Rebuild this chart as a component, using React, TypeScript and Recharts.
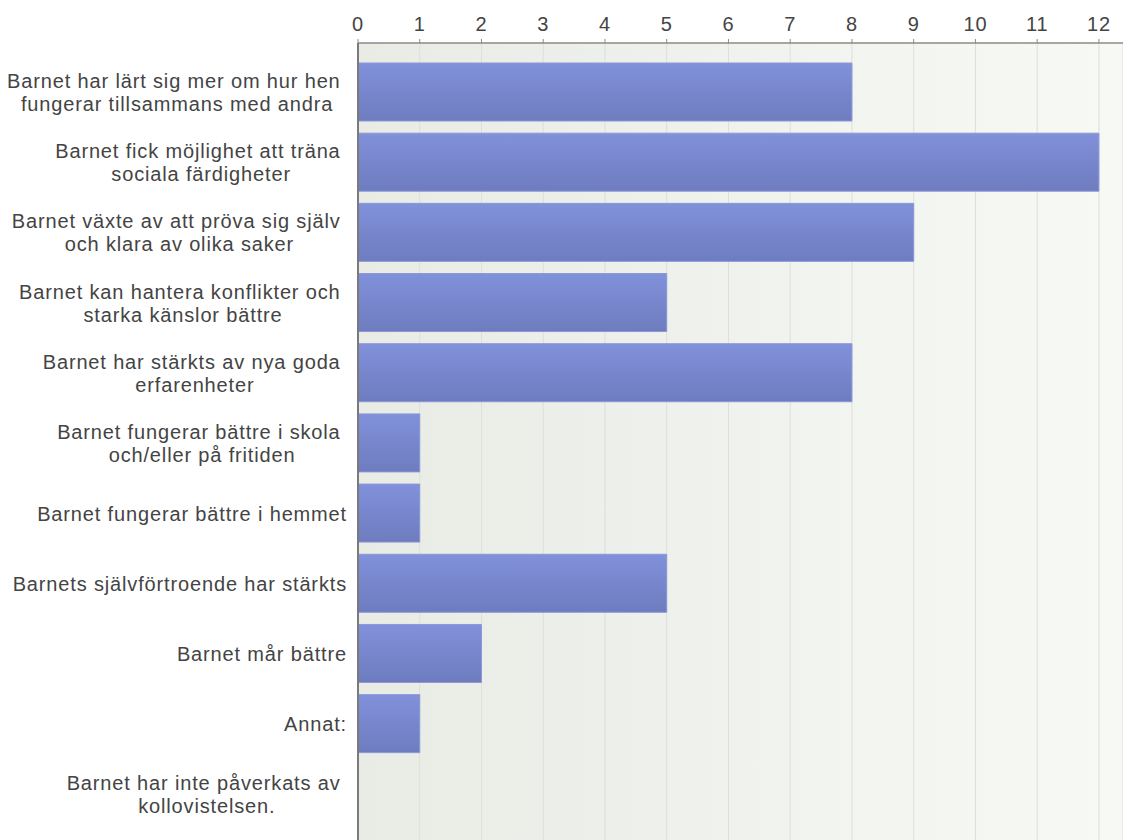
import React from "react";
import { BarChart, Bar, XAxis, YAxis, CartesianGrid } from "recharts";

const categories = [
  "Barnet har lärt sig mer om hur hen\nfungerar tillsammans med andra",
  "Barnet fick möjlighet att träna\nsociala färdigheter",
  "Barnet växte av att pröva sig själv\noch klara av olika saker",
  "Barnet kan hantera konflikter och\nstarka känslor bättre",
  "Barnet har stärkts av nya goda\nerfarenheter",
  "Barnet fungerar bättre i skola\noch/eller på fritiden",
  "Barnet fungerar bättre i hemmet",
  "Barnets självförtroende har stärkts",
  "Barnet mår bättre",
  "Annat:",
  "Barnet har inte påverkats av\nkollovistelsen.",
];
const counts = [8, 12, 9, 5, 8, 1, 1, 5, 2, 1, 0];
const xTicks = [0, 1, 2, 3, 4, 5, 6, 7, 8, 9, 10, 11, 12];

const FONT = "'Liberation Sans', Arial, sans-serif";
const FONT_SIZE = 20;
const LETTER = 0.85;
const LINE_H = 23;

const data = categories.map((name, i) => ({ name, value: counts[i] }));

let ctx: CanvasRenderingContext2D | null = null;
const measure = (s: string) => {
  if (!ctx) {
    ctx = document.createElement("canvas").getContext("2d");
  }
  if (!ctx) return s.length * 10;
  ctx.font = `${FONT_SIZE}px 'Liberation Sans', Arial, sans-serif`;
  return ctx.measureText(s).width + LETTER * s.length;
};

// label block is right aligned, its lines centred inside it
const CategoryTick = ({ x, y, payload }: any) => {
  const lines: string[] = String(payload.value).split("\n");
  const widths = lines.map((l, i) => measure(i < lines.length - 1 ? l + " " : l));
  const blockW = Math.max(...widths);
  const mid = x - blockW / 2;
  const n = lines.length;
  return (
    <g>
      {lines.map((l, i) => (
        <text
          key={i}
          x={mid - widths[i] / 2}
          y={y + 7.5 + (i - (n - 1) / 2) * LINE_H}
          fill="#444"
          fontSize={FONT_SIZE}
          fontFamily={FONT}
          letterSpacing={LETTER}
          textAnchor="start"
        >
          {l}
        </text>
      ))}
    </g>
  );
};

export default function App() {
  return (
    <div style={{ position: "absolute", left: 0, top: 0, width: 1123, height: 840, background: "#fff" }}>
      <BarChart
        width={1123}
        height={840}
        data={data}
        layout="vertical"
        margin={{ top: 0, right: 0, bottom: 0, left: 0 }}
      >
        <defs>
          <linearGradient id="bgGrad" x1="0" y1="0" x2="1" y2="0">
            <stop offset="0%" stopColor="#e8ece5" />
            <stop offset="100%" stopColor="#f7f9f5" />
          </linearGradient>
          <linearGradient id="barGrad" x1="0" y1="0" x2="0" y2="1">
            <stop offset="0%" stopColor="#8191da" />
            <stop offset="100%" stopColor="#6e7cbf" />
          </linearGradient>
        </defs>
        <CartesianGrid
          horizontal={false}
          stroke="#dcdfda"
          fill="url(#bgGrad)"
          fillOpacity={1}
        />
        <XAxis
          type="number"
          orientation="top"
          domain={[0, 12.39]}
          ticks={xTicks}
          height={43}
          tickSize={4}
          tickMargin={8}
          stroke="#8a8a8a"
          axisLine={{ stroke: "#8a8a8a", strokeWidth: 1.5 }}
          tickLine={{ stroke: "#8a8a8a" }}
          tick={{ fill: "#444", fontSize: FONT_SIZE, fontFamily: FONT, letterSpacing: LETTER }}
          allowDataOverflow
        />
        <YAxis
          type="category"
          dataKey="name"
          width={358}
          tickSize={0}
          tickMargin={11}
          padding={{ top: 14, bottom: 11 }}
          axisLine={{ stroke: "#7a7a7a", strokeWidth: 2 }}
          tickLine={false}
          tick={<CategoryTick />}
          interval={0}
        />
        <Bar
          dataKey="value"
          barSize={58}
          fill="url(#barGrad)"
          stroke="#8b97d8"
          strokeWidth={1}
          isAnimationActive={false}
        />
      </BarChart>
    </div>
  );
}
